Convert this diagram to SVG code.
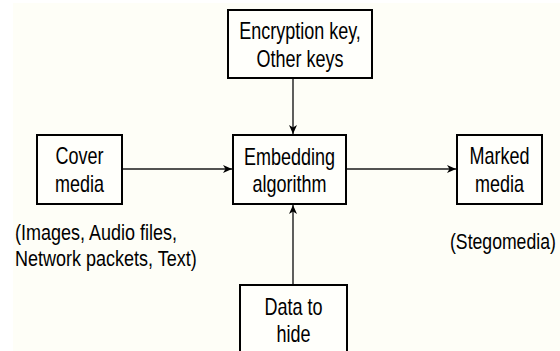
<svg xmlns="http://www.w3.org/2000/svg" width="560" height="351" viewBox="0 0 560 351">
  <style>
    .box { fill: #fffffb; stroke: #000; stroke-width: 2; }
    .lbl { font-family: "Liberation Sans", Arial, sans-serif; font-size: 18px; fill: #000; text-anchor: middle; }
    .cap { font-family: "Liberation Sans", Arial, sans-serif; font-size: 18px; fill: #000; }
    .wire { stroke: #1a1a1a; stroke-width: 1.4; fill: none; marker-end: url(#arrow); }
  </style>
  <defs>
    <marker id="arrow" markerWidth="10" markerHeight="10" refX="9" refY="5" orient="auto" markerUnits="userSpaceOnUse">
      <path d="M0,1 L9,5 L0,9 L2.5,5 Z" fill="#000"/>
    </marker>
  </defs>

  <!-- page background -->
  <rect x="0" y="0" width="560" height="351" fill="#ffffff"/>
  <rect x="13" y="3" width="547" height="348" fill="#fefef7"/>

  <g id="connectors">
    <path class="wire" d="M293,79 V134"/>
    <path class="wire" d="M293,285 V205"/>
    <path class="wire" d="M122,169 H232"/>
    <path class="wire" d="M346,169 H456"/>
  </g>

  <g id="keys">
    <rect class="box" x="228" y="10" width="144" height="68"/>
    <text class="lbl" transform="translate(300,39) scale(1,1.3)">Encryption key,</text>
    <text class="lbl" transform="translate(300,67) scale(1,1.3)">Other keys</text>
  </g>

  <g id="cover">
    <rect class="box" x="37" y="135" width="85" height="69"/>
    <text class="lbl" transform="translate(79.5,164) scale(1,1.3)">Cover</text>
    <text class="lbl" transform="translate(79.5,192) scale(1,1.3)">media</text>
  </g>

  <g id="embedding">
    <rect class="box" x="233" y="135" width="113" height="69"/>
    <text class="lbl" transform="translate(289.5,165) scale(1,1.3)">Embedding</text>
    <text class="lbl" transform="translate(289.5,192) scale(1,1.3)">algorithm</text>
  </g>

  <g id="marked">
    <rect class="box" x="457" y="135" width="85" height="69"/>
    <text class="lbl" transform="translate(499.5,164) scale(1,1.3)">Marked</text>
    <text class="lbl" transform="translate(499.5,192) scale(1,1.3)">media</text>
  </g>

  <g id="data">
    <rect class="box" x="240" y="285" width="107" height="80"/>
    <text class="lbl" transform="translate(293.5,315) scale(1,1.3)">Data to</text>
    <text class="lbl" transform="translate(293.5,342) scale(1,1.3)">hide</text>
  </g>

  <g id="cover-note">
    <text class="cap" transform="translate(15,240) scale(1,1.2)">(Images, Audio files,</text>
    <text class="cap" transform="translate(15,266) scale(1,1.2)">Network packets, Text)</text>
  </g>

  <g id="marked-note">
    <text class="cap" transform="translate(450,249) scale(0.98,1.2)">(Stegomedia)</text>
  </g>
</svg>
